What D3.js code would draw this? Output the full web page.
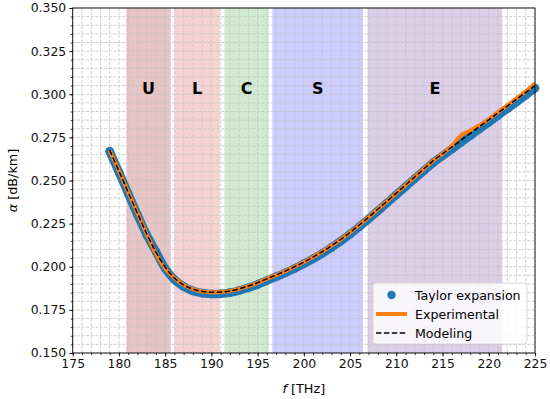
<!DOCTYPE html>
<html>
<head>
<meta charset="utf-8">
<script src="https://cdn.jsdelivr.net/npm/d3@7"></script>
<style>
  body { margin: 0; background: #fff; }
  svg { font-family: "DejaVu Sans", sans-serif; }
</style>
</head>
<body>
<script>
// frequency grid (THz)
const freq = [179,180,181,182,183,184,185,186,187,188,189,190,191,192,193,194,195,196,197,198,199,200,
  201,202,203,204,205,206,207,208,209,210,211,212,213,214,215,216,217,218,219,220,221,222,223,224,225];

// attenuation (dB/km)
const modeling = [.2675,.2555,.2432,.2310,.2192,.2085,.1998,.1935,.1895,.1870,.1857,.1852,.1853,.1860,.1872,.1888,.1907,.1930,.1952,.1975,.2000,.2027,
  .2056,.2088,.2122,.2159,.2199,.2242,.2287,.2333,.2380,.2427,.2474,.2521,.2568,.2615,.2655,.2694,.2734,.2773,.2813,.2852,.2892,.2931,.2971,.3010,.3050];
const experimental = [.2675,.2555,.2432,.2310,.2190,.2075,.1990,.1935,.1895,.1870,.1857,.1852,.1853,.1860,.1872,.1888,.1907,.1930,.1952,.1975,.2000,.2027,
  .2056,.2088,.2122,.2159,.2199,.2242,.2287,.2333,.2380,.2427,.2474,.2521,.2568,.2615,.2656,.2700,.2762,.2790,.2820,.2856,.2896,.2936,.2977,.3017,.3062];
const taylor = [.2670,.2548,.2424,.2302,.2186,.2088,.1990,.1925,.1885,.1860,.1847,.1842,.1843,.1850,.1862,.1878,.1897,.1920,.1942,.1965,.1990,.2017,
  .2046,.2078,.2112,.2149,.2189,.2232,.2277,.2323,.2370,.2417,.2464,.2511,.2557,.2604,.2643,.2682,.2721,.2760,.2799,.2838,.2877,.2916,.2955,.2995,.3036];

// telecom bands
const bandNames = ['U','L','C','S','E'];
const bandStart = [180.8, 186.0, 191.4, 196.6, 206.9];
const bandEnd   = [185.6, 190.9, 196.2, 206.4, 221.45];
const bandColors = ['#a52a2a','#d62728','#2ca02c','#0000ff','#9467bd'];
const bandOpacity = [0.27, 0.21, 0.22, 0.2, 0.33];

const xTicks = [175,180,185,190,195,200,205,210,215,220,225];
const yTicks = [0.150,0.175,0.200,0.225,0.250,0.275,0.300,0.325,0.350];

const W = 550, H = 399;
const m = {left: 72.7, right: 535, top: 8, bottom: 353};
const FS = 12.4;

const svg = d3.select('body').append('svg')
    .attr('width', W).attr('height', H);

const x = d3.scaleLinear().domain([175, 225]).range([m.left, m.right]);
const y = d3.scaleLinear().domain([0.150, 0.350]).range([m.bottom, m.top]);

// bands
svg.append('g').selectAll('rect')
    .data(bandNames)
    .enter().append('rect')
    .attr('x', (d, i) => x(bandStart[i]))
    .attr('width', (d, i) => x(bandEnd[i]) - x(bandStart[i]))
    .attr('y', m.top)
    .attr('height', m.bottom - m.top)
    .attr('fill', (d, i) => bandColors[i])
    .attr('fill-opacity', (d, i) => bandOpacity[i]);

// grid (major + minor)
const xMinorVals = d3.range(175, 225.5, 1);
const yMinorVals = d3.range(0, 41).map(i => 0.150 + i * 0.005);
const grid = svg.append('g')
    .attr('stroke', '#c4c4c4')
    .attr('stroke-width', 0.8)
    .attr('stroke-dasharray', '3,1.5');
grid.selectAll('.gx')
    .data(xMinorVals)
    .enter().append('line')
    .attr('x1', d => x(d)).attr('x2', d => x(d))
    .attr('y1', m.top).attr('y2', m.bottom);
grid.selectAll('.gy')
    .data(yMinorVals)
    .enter().append('line')
    .attr('y1', d => y(d)).attr('y2', d => y(d))
    .attr('x1', m.left).attr('x2', m.right);

// band labels
svg.append('g').selectAll('text')
    .data(bandNames)
    .enter().append('text')
    .attr('x', (d, i) => x((bandStart[i] + bandEnd[i]) / 2))
    .attr('y', y(0.3035))
    .attr('text-anchor', 'middle')
    .attr('dominant-baseline', 'central')
    .attr('font-size', 16)
    .attr('font-weight', 'bold')
    .text(d => d);

const pts = freq.map((f, i) => i);

// Taylor expansion (dense markers)
const lineT = d3.line().x(i => x(freq[i])).y(i => y(taylor[i])).curve(d3.curveCatmullRom);
svg.append('path')
    .attr('d', lineT(pts))
    .attr('fill', 'none')
    .attr('stroke', '#1f77b4')
    .attr('stroke-width', 8.5)
    .attr('stroke-linecap', 'round')
    .attr('stroke-linejoin', 'round');
svg.append('g').selectAll('circle')
    .data(pts)
    .enter().append('circle')
    .attr('cx', i => x(freq[i]))
    .attr('cy', i => y(taylor[i]))
    .attr('r', 4.3)
    .attr('fill', '#1f77b4');

// Experimental
const lineE = d3.line().x(i => x(freq[i])).y(i => y(experimental[i])).curve(d3.curveCatmullRom);
svg.append('path')
    .attr('d', lineE(pts))
    .attr('fill', 'none')
    .attr('stroke', '#ff7f0e')
    .attr('stroke-width', 4);

// Modeling
const lineM = d3.line().x(i => x(freq[i])).y(i => y(modeling[i])).curve(d3.curveCatmullRom);
svg.append('path')
    .attr('d', lineM(pts))
    .attr('fill', 'none')
    .attr('stroke', '#000')
    .attr('stroke-width', 1.5)
    .attr('stroke-dasharray', '5.5,2.4');

// axes
const xAxis = d3.axisBottom(x).tickValues(xTicks).tickFormat(d3.format('d')).tickSize(3.5).tickPadding(3);
const xMinor = d3.axisBottom(x).tickValues(xMinorVals).tickFormat('').tickSize(2);
const yAxis = d3.axisLeft(y).tickValues(yTicks).tickFormat(d3.format('.3f')).tickSize(3.5).tickPadding(3);
const yMinor = d3.axisLeft(y).tickValues(yMinorVals).tickFormat('').tickSize(2);

svg.append('g').attr('transform', `translate(0,${m.bottom})`).call(xMinor);
svg.append('g').attr('transform', `translate(${m.left},0)`).call(yMinor);
const gx = svg.append('g').attr('transform', `translate(0,${m.bottom})`).call(xAxis);
const gy = svg.append('g').attr('transform', `translate(${m.left},0)`).call(yAxis);
svg.selectAll('.domain').remove();
svg.selectAll('.tick line').attr('stroke', '#000').attr('stroke-width', 0.8);
gx.selectAll('text').attr('font-size', FS).attr('fill', '#111').attr('font-family', 'DejaVu Sans');
gy.selectAll('text').attr('font-size', FS).attr('fill', '#111').attr('font-family', 'DejaVu Sans');

svg.append('rect')
    .attr('x', m.left).attr('y', m.top)
    .attr('width', m.right - m.left).attr('height', m.bottom - m.top)
    .attr('fill', 'none').attr('stroke', '#000').attr('stroke-width', 0.9);

// axis labels
const xl = svg.append('text')
    .attr('x', (m.left + m.right) / 2).attr('y', 393)
    .attr('text-anchor', 'middle')
    .attr('font-size', 12.8);
xl.append('tspan').attr('font-style', 'italic').text('f');
xl.append('tspan').text(' [THz]');

const yl = svg.append('text')
    .attr('transform', `translate(17,${(m.top + m.bottom) / 2}) rotate(-90)`)
    .attr('text-anchor', 'middle')
    .attr('font-size', 12.8);
yl.append('tspan').attr('font-style', 'italic').text('α');
yl.append('tspan').text(' [dB/km]');

// legend
const lg = svg.append('g');
lg.append('rect')
    .attr('x', 373).attr('y', 283).attr('width', 154).attr('height', 61).attr('rx', 3)
    .attr('fill', '#fff').attr('fill-opacity', 0.8)
    .attr('stroke', '#d0d0d0').attr('stroke-width', 0.8);
lg.append('circle').attr('cx', 391.5).attr('cy', 295).attr('r', 4.2).attr('fill', '#1f77b4');
lg.append('line').attr('x1', 376).attr('x2', 407).attr('y1', 314).attr('y2', 314)
    .attr('stroke', '#ff7f0e').attr('stroke-width', 4);
lg.append('line').attr('x1', 376).attr('x2', 407).attr('y1', 333).attr('y2', 333)
    .attr('stroke', '#000').attr('stroke-width', 1.5).attr('stroke-dasharray', '5.5,2.4');
const legendLabels = ['Taylor expansion', 'Experimental', 'Modeling'];
lg.selectAll('.lt')
    .data(legendLabels)
    .enter().append('text')
    .attr('x', 415)
    .attr('y', (d, i) => 295 + i * 19)
    .attr('dominant-baseline', 'central')
    .attr('font-size', 12.6)
    .text(d => d);
</script>
</body>
</html>
